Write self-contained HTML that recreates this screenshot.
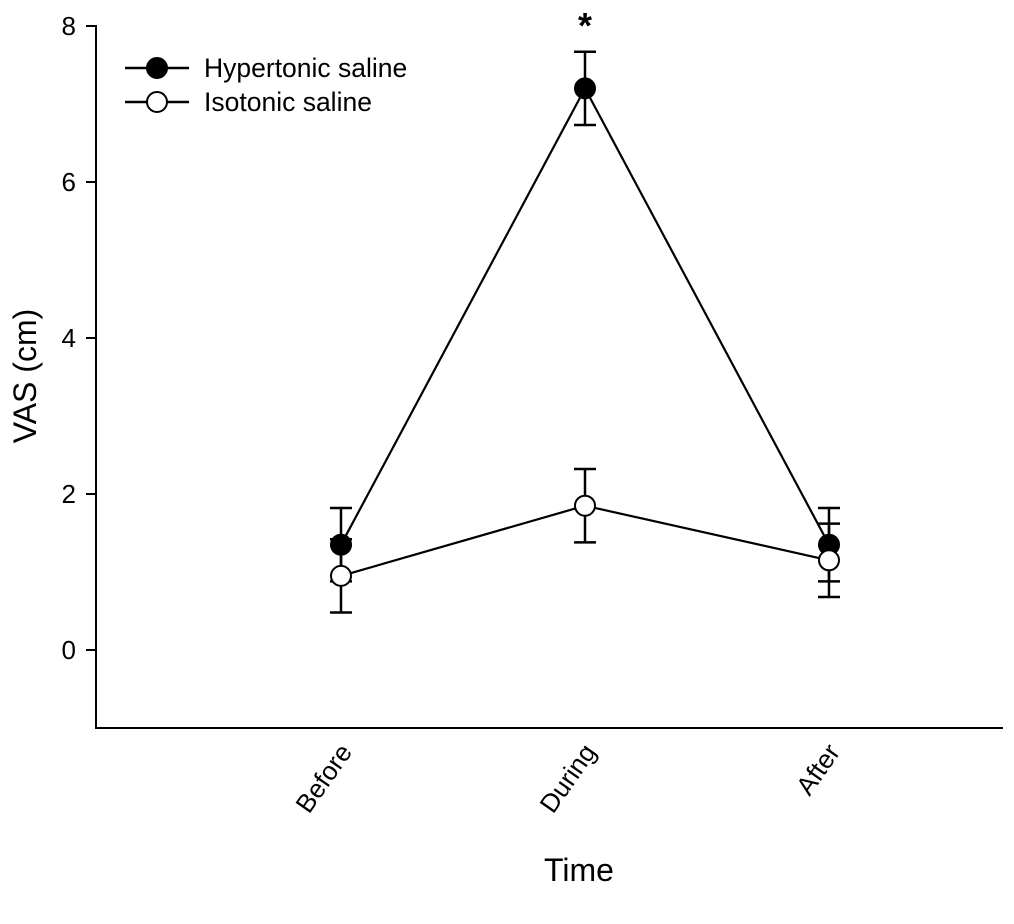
<!DOCTYPE html>
<html><head><meta charset="utf-8"><style>
body{margin:0;background:#fff}
svg{display:block;font-family:"Liberation Sans",Arial,sans-serif}
</style></head><body>
<svg id="chart" width="1014" height="924" viewBox="0 0 1014 924">
<g id="axes"></g>
<g id="series"></g>
<text x="585" y="38" text-anchor="middle" font-size="36" font-weight="bold">*</text>
<g>
<g>
<line x1="125" y1="68" x2="189" y2="68" stroke="#000" stroke-width="2.5"/>
<circle cx="157" cy="68" r="10" fill="#000" stroke="#000" stroke-width="2"/>
<text x="204" y="77" font-size="26.5">Hypertonic saline</text></g>
<g>
<line x1="125" y1="102" x2="189" y2="102" stroke="#000" stroke-width="2.5"/>
<circle cx="157" cy="102" r="10" fill="#fff" stroke="#000" stroke-width="2"/>
<text x="204" y="111" font-size="26.5">Isotonic saline</text></g>
</g>
<text x="579" y="881" text-anchor="middle" font-size="32">Time</text>
<text transform="translate(36,376) rotate(-90)" text-anchor="middle" font-size="32">VAS (cm)</text>
</svg>
<script>
const categories=["Before","During","After"];
const hyperMean=[1.35,7.2,1.35];
const hyperErr=[0.47,0.47,0.47];
const isoMean=[0.95,1.85,1.15];
const isoErr=[0.47,0.47,0.47];
const yTicks=[0,2,4,6,8];
const NS="http://www.w3.org/2000/svg";
function x(i){return 341+i*244;}
function y(v){return 650-v*78;}
function mk(tag,attrs,parent){const e=document.createElementNS(NS,tag);for(const k in attrs)e.setAttribute(k,attrs[k]);parent.appendChild(e);return e;}
const axes=document.getElementById('axes'),ser=document.getElementById('series');
let a=mk('line',{x1:96,y1:y(8)-1,x2:96,y2:729,stroke:'#000','stroke-width':2},axes);


a=mk('line',{x1:95,y1:728,x2:1003,y2:728,stroke:'#000','stroke-width':2},axes);


yTicks.forEach(t=>{
 const l=mk('line',{x1:86,y1:y(t),x2:96,y2:y(t),stroke:'#000','stroke-width':2},axes);
 
 
 const tx=mk('text',{x:76,y:y(t)+9,'text-anchor':'end','font-size':26},axes);
 tx.textContent=t;
 
 
});
categories.forEach((c,i)=>{
 const tx=mk('text',{transform:`translate(${x(i)+12},752) rotate(-55)`,'text-anchor':'end','font-size':26},axes);
 tx.textContent=c;
 
 
});
function drawSeries(mean,err,fill,name){
 const g=mk('g',{},ser);
 
 
 mean.forEach((m,i)=>{
  const e=mk('path',{d:`M${x(i)},${y(m+err[i])}V${y(m-err[i])}M${x(i)-11},${y(m+err[i])}h22M${x(i)-11},${y(m-err[i])}h22`,stroke:'#000','stroke-width':2.5,fill:'none'},g);
  
  
 });
 const pl=mk('polyline',{points:mean.map((m,i)=>x(i)+','+y(m)).join(' '),stroke:'#000','stroke-width':2.2,fill:'none'},g);
 
 
 mean.forEach((m,i)=>{
  const c=mk('circle',{cx:x(i),cy:y(m),r:10,fill:fill,stroke:'#000','stroke-width':2},g);
  
  
 });
}
drawSeries(hyperMean,hyperErr,'#000','hypertonic-series');
drawSeries(isoMean,isoErr,'#fff','isotonic-series');
</script>
</body></html>
